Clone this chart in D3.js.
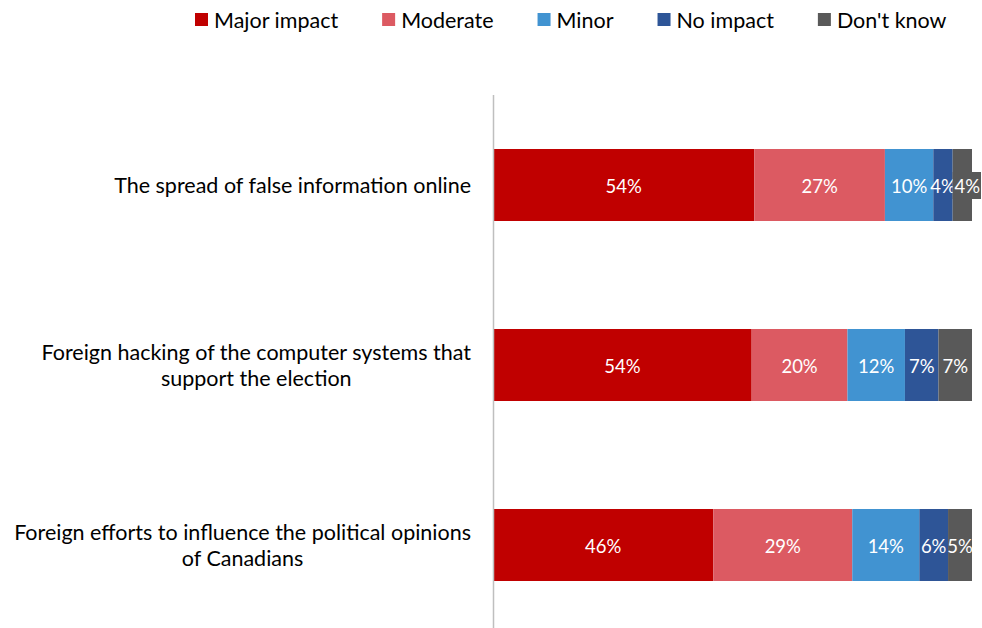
<!DOCTYPE html>
<html>
<head>
<meta charset="utf-8">
<script src="https://cdn.jsdelivr.net/npm/d3@7"></script>
<style>
  html, body { margin: 0; padding: 0; background: #fff; }
  svg { display: block; font-family: Lato, "Open Sans", sans-serif; }
</style>
</head>
<body>
<svg id="chart" width="982" height="628"></svg>
<script>
// Impact ratings for three election threats (percent of respondents)
const categories = [
  "The spread of false information online",
  "Foreign hacking of the computer systems that support the election",
  "Foreign efforts to influence the political opinions of Canadians"
];
const categoryLines = [
  ["The spread of false information online"],
  ["Foreign hacking of the computer systems that", "support the election"],
  ["Foreign efforts to influence the political opinions", "of Canadians"]
];
const seriesNames = ["Major impact", "Moderate", "Minor", "No impact", "Don't know"];
const majorImpact = [54, 54, 46];
const moderate    = [27, 20, 29];
const minor       = [10, 12, 14];
const noImpact    = [4, 7, 6];
const dontKnow    = [4, 7, 5];
const seriesColors = ["#C00000", "#DC5A62", "#4193D1", "#2E5597", "#595959"];

const seriesValues = [majorImpact, moderate, minor, noImpact, dontKnow];
const rows = categories.map((c, i) => {
  const r = { category: c };
  seriesNames.forEach((s, j) => { r[s] = seriesValues[j][i]; });
  return r;
});

const svg = d3.select("#chart");

const x = d3.scaleLinear().domain([0, 1]).range([493, 972]);
const y = d3.scaleBand().domain(categories).range([95, 635])
  .paddingInner(0.6).paddingOuter(0.3);
const color = d3.scaleOrdinal().domain(seriesNames).range(seriesColors);

const stacked = d3.stack().keys(seriesNames).offset(d3.stackOffsetExpand)(rows);

// bars
const layers = svg.append("g").selectAll("g")
  .data(stacked).join("g")
  .attr("fill", d => color(d.key));

layers.selectAll("rect")
  .data(d => d.map(p => Object.assign(p, { key: d.key })))
  .join("rect")
  .attr("x", d => x(d[0]))
  .attr("width", d => x(d[1]) - x(d[0]))
  .attr("y", d => y(d.data.category))
  .attr("height", y.bandwidth());

// vertical category axis line
svg.append("line")
  .attr("x1", 493.5).attr("x2", 493.5)
  .attr("y1", 95).attr("y2", 628)
  .attr("stroke", "#BFBFBF").attr("stroke-width", 1.5);

// value labels, centred in each segment; a label that would collide with
// the one before it is pushed right, and gets a box in its segment colour
// when that push carries it past the end of the bar
const labelSize = 18.5;
const labelLayer = svg.append("g");
categories.forEach((c, i) => {
  const cy = y(c) + y.bandwidth() / 2;
  let prevRight = -Infinity;
  stacked.forEach(layer => {
    const p = layer[i];
    const value = p.data[layer.key];
    const x0 = x(p[0]), x1 = x(p[1]);
    const g = labelLayer.append("g");
    const t = g.append("text")
      .attr("text-anchor", "middle")
      .attr("dominant-baseline", "central")
      .attr("fill", "#fff")
      .attr("font-size", labelSize)
      .text(value + "%");
    const w = t.node().getComputedTextLength();
    let cx = (x0 + x1) / 2;
    if (cx - w / 2 < prevRight) {
      const left = Math.min(prevRight + 2.5, 980 - w);
      cx = left + w / 2;
      if (left + w > x1 + 1) {
        g.insert("rect", "text")
          .attr("x", x0).attr("y", cy - 13)
          .attr("width", Math.min(left + w + 2, 981) - x0).attr("height", 27)
          .attr("fill", color(layer.key));
      }
    }
    t.attr("x", cx).attr("y", cy + 1);
    prevRight = cx + w / 2;
  });
});

// category labels
const catSize = 21.5;
categories.forEach((c, i) => {
  const lines = categoryLines[i];
  const g = svg.append("g");
  const texts = lines.map(l => g.append("text")
    .attr("text-anchor", "middle")
    .attr("dominant-baseline", "central")
    .attr("font-size", catSize)
    .attr("fill", "#000")
    .text(l));
  const maxW = d3.max(texts, t => t.node().getComputedTextLength());
  const cx = 471 - maxW / 2;
  const cy = y(c) + y.bandwidth() / 2;
  const lh = 26;
  texts.forEach((t, k) => {
    t.attr("x", cx).attr("y", cy + (k - (lines.length - 1) / 2) * lh);
  });
});

// legend
const legendSize = 21.5;
const legend = svg.append("g");
let lx = 195;
seriesNames.forEach(s => {
  legend.append("rect")
    .attr("x", lx).attr("y", 13)
    .attr("width", 13).attr("height", 13)
    .attr("fill", color(s));
  const t = legend.append("text")
    .attr("x", lx + 19).attr("y", 20)
    .attr("dominant-baseline", "central")
    .attr("font-size", legendSize)
    .attr("fill", "#000")
    .text(s);
  lx += 19 + t.node().getComputedTextLength() + 44;
});
</script>
</body>
</html>
